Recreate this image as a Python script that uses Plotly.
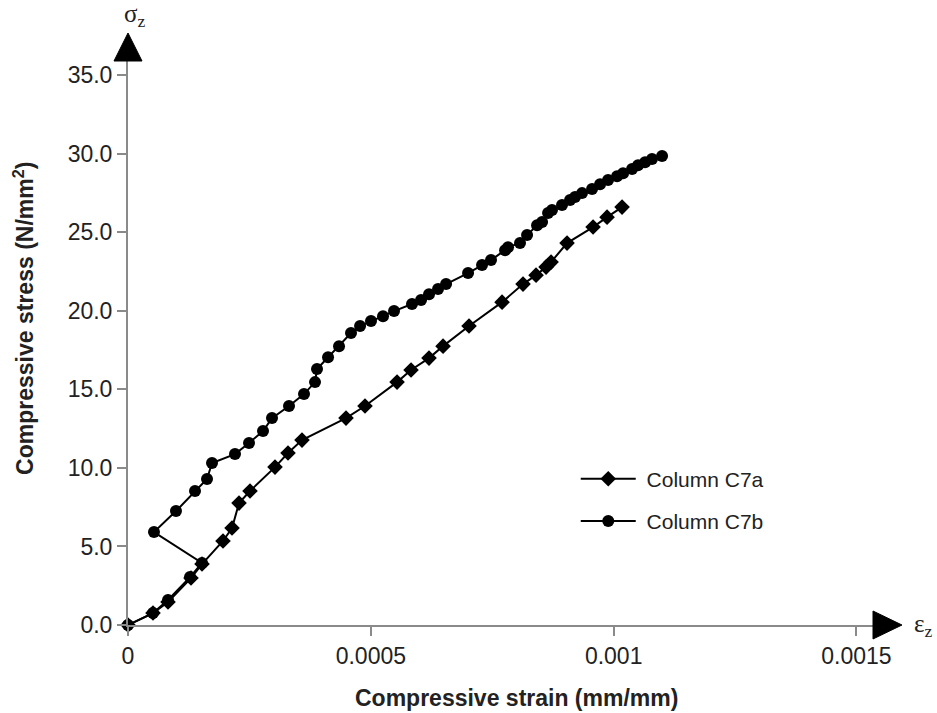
import plotly.graph_objects as go

# ---- data ----
c7a_strain = [0.0, 0.0000515, 0.0000824, 0.0001297, 0.0001524, 0.0001956, 0.0002142, 0.0002286,
              0.0002512, 0.0003027, 0.0003295, 0.0003583, 0.0004489, 0.000488, 0.000554, 0.0005828,
              0.0006198, 0.0006487, 0.0007022, 0.0007702, 0.0008134, 0.0008402, 0.0008608, 0.0008711,
              0.000904, 0.0009576, 0.0009864, 0.0010173]
c7a_stress = [0.0, 0.76, 1.46, 2.99, 3.88, 5.35, 6.17, 7.76,
              8.53, 10.05, 10.95, 11.77, 13.17, 13.94, 15.46, 16.23,
              16.99, 17.75, 19.03, 20.55, 21.70, 22.27, 22.78, 23.10,
              24.31, 25.33, 25.96, 26.60]

c7b_strain = [0.0, 0.0000515, 0.0000824, 0.0001277, 0.0001524, 0.0000535, 0.0000988, 0.000138,
              0.0001627, 0.000173, 0.0002203, 0.0002492, 0.000278, 0.0002965, 0.0003315, 0.0003624,
              0.0003851, 0.0003892, 0.0004119, 0.0004345, 0.0004592, 0.0004778, 0.0005004, 0.0005251,
              0.0005478, 0.0005848, 0.0006034, 0.0006198, 0.0006384, 0.0006549, 0.0007002, 0.000729,
              0.0007475, 0.0007764, 0.0007825, 0.0008072, 0.0008217, 0.0008423, 0.0008526, 0.0008649,
              0.0008731, 0.0008937, 0.0009102, 0.0009205, 0.0009349, 0.0009555, 0.000972, 0.0009885,
              0.001007, 0.0010194, 0.0010379, 0.0010502, 0.0010647, 0.001079, 0.0010997]
c7b_stress = [0.0, 0.76, 1.59, 3.05, 3.95, 5.92, 7.25, 8.53,
              9.29, 10.31, 10.88, 11.58, 12.35, 13.17, 13.94, 14.70,
              15.46, 16.29, 17.05, 17.75, 18.58, 19.03, 19.35, 19.66,
              19.98, 20.43, 20.68, 21.06, 21.38, 21.70, 22.40, 22.91,
              23.23, 23.86, 24.05, 24.31, 24.82, 25.45, 25.65, 26.22,
              26.41, 26.73, 27.05, 27.24, 27.49, 27.75, 28.06, 28.32,
              28.57, 28.76, 29.02, 29.27, 29.46, 29.66, 29.85]

x_tickvals = [0, 0.0005, 0.001, 0.0015]
x_ticktext = ["0", "0.0005", "0.001", "0.0015"]
y_tickvals = [0, 5, 10, 15, 20, 25, 30, 35]
y_ticktext = ["0.0", "5.0", "10.0", "15.0", "20.0", "25.0", "30.0", "35.0"]

series_names = ["Column C7a", "Column C7b"]

AXIS = "#8a8a8a"
TXT = "#222222"
NB = "\u00a0"

fig = go.Figure()
fig.add_trace(go.Scatter(
    x=c7a_strain, y=c7a_stress, name=NB + series_names[0], mode="lines+markers",
    line=dict(color="black", width=2),
    marker=dict(symbol="diamond", size=12, color="black"),
    cliponaxis=False, legendgroup="a"))
fig.add_trace(go.Scatter(
    x=c7b_strain, y=c7b_stress, name=NB + series_names[1], mode="lines+markers",
    line=dict(color="black", width=2),
    marker=dict(symbol="circle", size=12, color="black"),
    cliponaxis=False, legendgroup="b"))

fig.update_layout(
    width=937, height=713,
    margin=dict(l=128, r=64, t=61, b=88),
    paper_bgcolor="white", plot_bgcolor="white",
    font=dict(family="Liberation Sans, Arial, sans-serif", color=TXT),
    showlegend=True,
    legend=dict(x=0.601, y=0.295, xanchor="left", yanchor="top",
                font=dict(size=21, color=TXT), bgcolor="rgba(0,0,0,0)",
                tracegroupgap=12, itemwidth=55),
    xaxis=dict(range=[0, 0.001534], showgrid=False, zeroline=False,
               showline=True, linecolor=AXIS, linewidth=2,
               ticks="outside", ticklen=9, tickcolor=AXIS, tickwidth=2,
               tickvals=x_tickvals, ticktext=x_ticktext,
               tickfont=dict(size=23, color=TXT)),
    yaxis=dict(range=[0, 35.9], showgrid=False, zeroline=False,
               showline=True, linecolor=AXIS, linewidth=2,
               ticks="outside", ticklen=9, tickcolor=AXIS, tickwidth=2,
               tickvals=y_tickvals, ticktext=y_ticktext,
               ticklabelstandoff=0,
               tickfont=dict(size=23, color=TXT)),
)

# axis arrowheads
fig.add_shape(type="path", xref="paper", yref="paper",
              path="M -0.0188,1.0 L 0.0188,1.0 L 0.0,1.0496 Z",
              fillcolor="black", line=dict(color="black", width=1))
fig.add_shape(type="path", xref="paper", yref="paper",
              path="M 1.0,0.0248 L 1.0,-0.0248 L 1.0389,0.0 Z",
              fillcolor="black", line=dict(color="black", width=1))

# axis symbols
fig.add_annotation(text="σ<sub>z</sub>", xref="paper", yref="paper",
                   x=0.009, y=1.080, xanchor="center", yanchor="middle",
                   showarrow=False, font=dict(family="Liberation Serif, serif", size=25, color=TXT))
fig.add_annotation(text="ε<sub>z</sub>", xref="paper", yref="paper",
                   x=1.068, y=0.0, xanchor="center", yanchor="middle",
                   showarrow=False, font=dict(family="Liberation Serif, serif", size=25, color=TXT))

# axis titles
fig.add_annotation(text="<b>Compressive strain (mm/mm)</b>", xref="paper", yref="paper",
                   x=0.521, y=-0.129, xanchor="center", yanchor="middle", showarrow=False,
                   font=dict(size=23, color=TXT))
fig.add_annotation(text="<b>Compressive stress (N/mm<sup>2</sup>)</b>", xref="paper", yref="paper",
                   x=-0.140, y=0.544, xanchor="center", yanchor="middle", showarrow=False,
                   textangle=-90, font=dict(size=23, color=TXT))

fig.write_html("out.html")
